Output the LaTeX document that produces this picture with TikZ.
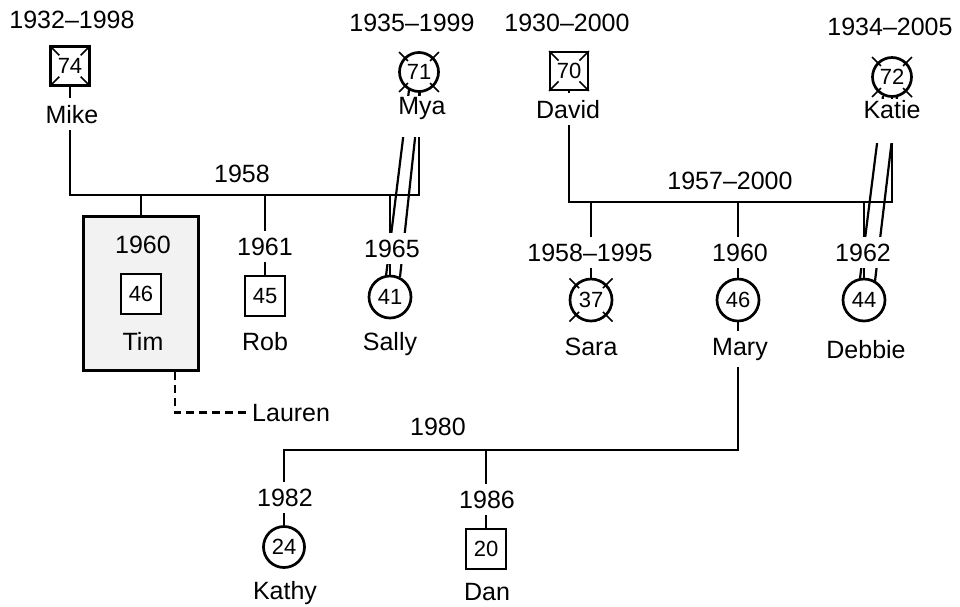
\documentclass[tikz,border=0pt]{standalone}
\usepackage{fontspec}
\setmainfont{Liberation Sans}
\usetikzlibrary{calc}
\pgfdeclarelayer{bg}
\pgfsetlayers{bg,main}
\begin{document}
\begin{tikzpicture}[x=1pt,y=-1pt,
 lbl/.style={font=\fontsize{25}{30}\selectfont, anchor=base, fill=white, inner xsep=2pt, inner ysep=3pt},
 yr/.style={lbl, inner ysep=7pt},
 male/.style={draw, rectangle, line width=2.7pt, fill=white, minimum size=40pt, inner sep=0pt, font=\fontsize{22}{26}\selectfont},
 female/.style={draw, circle, line width=2.7pt, fill=white, minimum size=42pt, inner sep=0pt, font=\fontsize{22}{26}\selectfont},
 con/.style={line width=2.8pt},
 dead/.style={line width=1.5pt},
 rel/.style={line width=2.2pt},
 dashcon/.style={line width=2.3pt, dash pattern=on 8pt off 5pt},
]
\useasboundingbox (0,0) rectangle (960,606);

% labels
\node[yr] (ymike) at (72,28) {1932--1998};
\node[lbl, inner ysep=7pt] (nmike) at (72,123) {Mike};
\node[yr] (ymya) at (412,31) {1935--1999};
\node[lbl, inner ysep=1pt] (nmya) at (422,114) {Mya\rule[-22pt]{0pt}{0pt}};
\node[yr] (ydavid) at (567,31) {1930--2000};
\node[lbl, inner ysep=7pt] (ndavid) at (568,118) {David};
\node[yr] (ykatie) at (890,35) {1934--2005};
\node[lbl, inner ysep=1pt] (nkatie) at (892,118) {Katie\rule[-24pt]{0pt}{0pt}};

\node[lbl, fill=none] (y58) at (242,182) {1958};
\node[yr] (y61) at (265,255) {1961};
\node[yr] (y65) at (392,257) {1965};
\node[lbl, fill=none] (y5700) at (730,189) {1957--2000};
\node[yr] (y5895) at (590,261) {1958--1995};
\node[yr] (y60m) at (740,261) {1960};
\node[yr] (y62) at (863,261) {1962};
\node[lbl, fill=none] (y80) at (438,435) {1980};
\node[yr] (y82) at (285,506) {1982};
\node[yr] (y86) at (487,508) {1986};

\node[lbl] (nrob) at (265,350) {Rob};
\node[lbl] (nsally) at (390,350) {Sally};
\node[lbl] (nsara) at (591,355) {Sara};
\node[lbl, inner ysep=7pt] (nmary) at (740,355) {Mary};
\node[lbl] (ndebbie) at (866,358) {Debbie};
\node[lbl, anchor=base west] (lauren) at (250,421) {Lauren};
\node[lbl] (nkathy) at (285,599) {Kathy};
\node[lbl, inner ysep=1pt] (ndan) at (487,600) {Dan};

% symbols
\node[male, minimum size=39pt] (mike) at (70,66) {74};
\node[female, minimum size=39pt] (mya) at (419,72) {71};
\node[male, minimum size=38pt] (david) at (569,71) {70};
\node[female, minimum size=39pt] (katie) at (892,77) {72};
\node[draw, line width=2.8pt, fill=gray!10, minimum width=115pt, minimum height=154pt, inner sep=0pt] (timbox) at (141,293.5) {};
\node[lbl, fill=none] (y60t) at (143,253) {1960};
\node[lbl, fill=none] (ntim) at (143,350) {Tim};
\node[male] (tim) at (141,294) {46};
\node[male] (rob) at (265,296) {45};
\node[female] (sally) at (390,297) {41};
\node[female] (sara) at (591,300) {37};
\node[female] (mary) at (738,300) {46};
\node[female] (debbie) at (864,300) {44};
\node[female, minimum size=41pt] (kathy) at (284,547) {24};
\node[male] (dan) at (486,549) {20};

% deceased marks
\foreach \n/\r in {mya/19.5, katie/19.5, sara/21}{
  \foreach \a in {45,135,225,315}{
    \pgfmathsetmacro\ra{0.8*\r}
    \pgfmathsetmacro\rb{1.45*\r}
    \draw[dead] ($(\n.center)+(\a:\ra)$) -- ($(\n.center)+(\a:\rb)$);
  }
}
\foreach \n/\s in {mike/19.5, david/19}{
  \foreach \sx/\sy in {1/1,1/-1,-1/1,-1/-1}{
    \draw[dead] ($(\n.center)+({\sx*\s*1.05},{\sy*\s*1.05})$) -- ($(\n.center)+({\sx*\s*0.55},{\sy*\s*0.55})$);
  }
}

% connectors
\begin{pgfonlayer}{bg}
\coordinate (m1) at (0,195);
\coordinate (m2) at (0,202);
\coordinate (m3) at (0,450);
\coordinate (lt) at (175,0);
\draw[con] (mike.south) -- (mike.south |- m1) -- (mya.south |- m1) -- (mya.south);
\draw[con] (timbox.north |- m1) -- (timbox.north);
\draw[con] (rob.north |- m1) -- (rob.north);
\draw[con] (sally.north |- m1) -- (sally.north);
\draw[rel] ($(mya.center)+(-10,18)$) -- ($(sally.center)+(-4,-21)$);
\draw[rel] ($(mya.center)+(1,20)$) -- ($(sally.center)+(10,-20)$);

\draw[con] (david.south) -- (david.south |- m2) -- (katie.south |- m2) -- (katie.south);
\draw[con] (sara.north |- m2) -- (sara.north);
\draw[con] (mary.north |- m2) -- (mary.north);
\draw[con] (debbie.north |- m2) -- (debbie.north);
\draw[rel] ($(katie.center)+(-9,19)$) -- ($(debbie.center)+(-4,-21.6)$);
\draw[rel] ($(katie.center)+(5,20)$) -- ($(debbie.center)+(11,-19)$);

\draw[con] (mary.south) -- (mary.south |- m3) -- (kathy.north |- m3) -- (kathy.north);
\draw[con] (dan.north |- m3) -- (dan.north);

\draw[dashcon] (lt |- timbox.south) |- (lauren.west);
\end{pgfonlayer}
\end{tikzpicture}
\end{document}
